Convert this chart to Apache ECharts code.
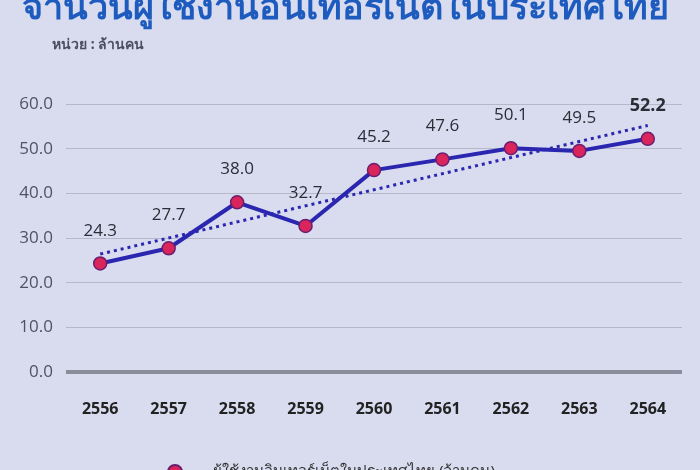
<!DOCTYPE html>
<html>
<head>
<meta charset="utf-8">
<script src="https://cdn.jsdelivr.net/npm/echarts@6/dist/echarts.min.js"></script>
<style>
html,body{margin:0;padding:0;background:#d9dcef;}
#c{width:700px;height:470px;}
</style>
</head>
<body>
<div id="c"></div>
<script>
const years = ['2556','2557','2558','2559','2560','2561','2562','2563','2564'];
const users = [24.3, 27.7, 38.0, 32.7, 45.2, 47.6, 50.1, 49.5, 52.2];
const trend = [26.4, null, null, null, null, null, null, null, 55.2];
const titleText = 'จำนวนผู้ใช้งานอินเทอร์เน็ตในประเทศไทย';
const unitText = 'หน่วย : ล้านคน';
const seriesName = 'ผู้ใช้งานอินเทอร์เน็ตในประเทศไทย (ล้านคน)';

const chart = echarts.init(document.getElementById('c'), null, {renderer:'canvas'});
chart.setOption({
  backgroundColor: '#d9dcef',
  animation: false,
  graphic: [
    {type:'text', left: 22, top: -9, style:{text: titleText, font: 'bold 36px "Noto Sans", sans-serif', fill:'#1e5bbf'}},
    {type:'text', left: 52, top: 38, style:{text: unitText, font: 'bold 14px "Noto Sans", sans-serif', fill:'#4a4f5e'}}
  ],
  legend: {
    data: [seriesName],
    left: 162, top: 459,
    icon: 'circle', itemWidth: 14, itemHeight: 14,
    textStyle: {fontSize: 15, color: '#333', fontFamily: '"Noto Sans", sans-serif', padding:[0,0,0,26]}
  },
  grid: {left: 66, right: 18, top: 104, bottom: 98},
  xAxis: {
    type: 'category', data: years, boundaryGap: true,
    axisLine: {show: false}, axisTick: {show: false},
    axisLabel: {fontSize: 16, fontWeight: 'bold', color: '#222', margin: 29, fontFamily: '"Open Sans", sans-serif'}
  },
  yAxis: {
    type: 'value', min: 0, max: 60, interval: 10,
    axisLabel: {formatter: v => v.toFixed(1), fontSize: 17, color: '#4e5362', margin: 13, fontFamily: '"Open Sans", sans-serif'},
    axisLine: {show: false}, axisTick: {show: false},
    splitLine: {lineStyle: {color: '#b4b8c8', width: 1}}
  },
  series: [
    {
      name: seriesName, type: 'line', data: users, z: 3,
      symbol: 'circle', symbolSize: 13,
      lineStyle: {color: '#2a26b0', width: 4},
      itemStyle: {color: '#d9245c', borderColor: '#6a1f6e', borderWidth: 1.5},
      label: {
        show: true, position: 'top', distance: 17, fontSize: 17, color: '#2a2d36',
        fontFamily: '"Open Sans", sans-serif',
        formatter: p => p.dataIndex === users.length - 1 ? '{b|' + p.value.toFixed(1) + '}' : p.value.toFixed(1),
        rich: {b: {fontWeight: 'bold', fontSize: 18, color: '#2a2d36', fontFamily: '"Open Sans", sans-serif'}}
      }
    },
    {
      name: 'trend', type: 'line', data: trend, connectNulls: true, z: 2,
      symbol: 'none', silent: true,
      lineStyle: {color: '#2a26b0', width: 3, type: [3, 4]}
    },
    {
      name: 'zero', type: 'line', data: [], silent: true,
      markLine: {symbol: 'none', silent: true, label:{show:false},
        lineStyle: {color: '#8a8e9c', width: 4, type: 'solid'},
        data: [{yAxis: 0}]}
    }
  ]
});
</script>
</body>
</html>
